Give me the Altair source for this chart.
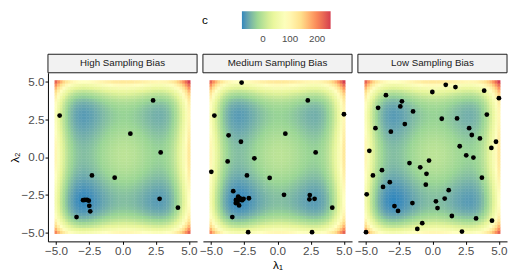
import altair as alt
import pandas as pd

# ---- background cost surface: c = cost along lambda1 + cost along lambda2 ----
grid_l = [-5.0, -4.8, -4.6, -4.4, -4.2, -4.0, -3.8, -3.6, -3.4, -3.2, -3.0, -2.8, -2.6,
          -2.4, -2.2, -2.0, -1.8, -1.6, -1.4, -1.2, -1.0, -0.8, -0.6, -0.4, -0.2, 0.0,
          0.2, 0.4, 0.6, 0.8, 1.0, 1.2, 1.4, 1.6, 1.8, 2.0, 2.2, 2.4, 2.6, 2.8, 3.0,
          3.2, 3.4, 3.6, 3.8, 4.0, 4.2, 4.4, 4.6, 4.8, 5.0]
cost_l1 = [100.0, 69.1, 43.1, 21.5, 4.0, -10.0, -20.8, -28.7, -34.2, -37.5, -39.0, -39.0,
           -37.7, -35.5, -32.5, -29.0, -25.2, -21.2, -17.3, -13.5, -10.0, -6.9, -4.3, -2.3,
           -0.8, 0.0, 0.2, -0.3, -1.3, -2.9, -5.0, -7.5, -10.3, -13.2, -16.2, -19.0, -21.5,
           -23.5, -24.7, -25.0, -24.0, -21.5, -17.2, -10.7, -1.8, 10.0, 25.0, 43.5, 66.1,
           93.1, 125.0]
cost_l2 = list(cost_l1)

# ---- sampled points per panel ----
high_l1 = [2.30, -4.73, 0.59, 2.87, -2.30, -0.59, 2.79, 4.17, -3.46, -2.97, -2.84, -2.67,
           -2.54, -2.50, -2.43]
high_l2 = [3.77, 2.76, 1.56, 0.31, -1.22, -1.37, -2.78, -3.37, -3.99, -2.87, -2.85, -2.85,
           -2.90, -3.24, -3.61]

med_l1 = [-2.70, 2.28, -4.75, 5.00, -3.68, 0.59, -2.75, 2.87, -1.74, -3.75, -4.98, -2.30,
          -0.59, 0.49, 2.43, 2.40, 2.79, 4.12, -3.40, -2.21, 2.60,
          -3.33, -2.96, -2.84, -3.13, -3.04, -2.72, -2.15, -2.89, -3.14, -2.99, -2.65, -2.55]
med_l2 = [4.96, 3.77, 2.76, 2.85, 1.45, 1.56, 1.02, 0.31, -0.08, -0.29, -0.98, -1.22,
          -1.39, -2.51, -2.53, -2.81, -2.78, -3.37, -3.99, -5.00, -5.00,
          -2.27, -2.64, -2.74, -2.85, -3.00, -2.85, -2.74, -3.22, -3.06, -2.91, -2.87, -2.78]

low_l1 = [1.00, 1.73, -0.01, 3.89, 5.00, -3.50, -2.30, -2.42, -4.09, -1.46, 4.09, 0.70,
          1.85, -2.08, -4.29, 2.76, -3.13, 2.96, 3.57, 4.78, 4.43, 2.05, -4.75, 2.54, 3.08,
          -0.26, -1.73, -0.92, -3.80, -0.45, -4.48, 3.72, -3.21, -0.50, -3.72, 1.22, 0.92,
          -4.95, 0.26, -1.51, -2.86, 0.38, -2.59, 1.46, 3.28, 4.48, -0.77, -1.14, 2.22, -5.00]
low_l2 = [4.81, 4.66, 4.33, 4.42, 3.92, 4.12, 3.71, 3.37, 3.28, 3.04, 2.83, 2.55,
          2.57, 2.20, 1.92, 1.92, 1.69, 1.47, 1.24, 1.02, 0.61, 0.72, 0.42, 0.12, -0.03,
          -0.23, -0.40, -0.68, -0.87, -1.11, -1.22, -1.37, -1.67, -1.84, -1.99, -2.20, -2.76,
          -2.48, -2.94, -3.06, -3.26, -3.39, -3.58, -3.92, -4.08, -4.23, -4.40, -4.78, -4.96, -5.00]

panel_titles = ["High Sampling Bias", "Medium Sampling Bias", "Low Sampling Bias"]
tick_values = [-5.0, -2.5, 0.0, 2.5, 5.0]
legend_values = [0, 100, 200]
palette = ["#3288BD", "#99D594", "#E6F598", "#FFFFBF", "#FEE08B", "#FC8D59", "#D53E4F"]

rows = []
for i, a in enumerate(grid_l):
    for j, b in enumerate(grid_l):
        rows.append({"l1": a, "l2": b, "c": round(cost_l1[i] + cost_l2[j], 1)})
grid = pd.DataFrame(rows)
cmin, cmax = float(grid["c"].min()), float(grid["c"].max())

W, H = 153, 173
FONT = "Liberation Sans"
xs = alt.Scale(domain=[-5.61, 5.61], nice=False, zero=False)
ys = alt.Scale(domain=[-5.61, 5.61], nice=False, zero=False)
cs = alt.Scale(domain=[cmin, cmax], range=palette, interpolate="lab", nice=False, zero=False)
leg = alt.Legend(
    orient="none", legendX=158, legendY=-63, direction="horizontal", title="c",
    titleOrient="left", titlePadding=35, titleFontSize=12, titleFont=FONT,
    titleFontWeight="normal", titleColor="black", titleAnchor="middle",
    titleBaseline="middle",
    gradientLength=91, gradientThickness=18, values=legend_values,
    labelFontSize=10, labelFont=FONT, labelColor="#4D4D4D", labelOffset=5,
)


def panel(k, p1, p2):
    xtitle = "λ₁" if k == 1 else None
    xaxis = alt.Axis(values=tick_values, format=".1f", title=xtitle, titlePadding=4)
    if k == 0:
        yaxis = alt.Axis(values=tick_values, format=".1f", title="λ₂")
    else:
        yaxis = None
    heat = alt.Chart(grid).transform_calculate(
        x0="datum.l1 - 0.115", x1="datum.l1 + 0.115",
        y0="datum.l2 - 0.115", y1="datum.l2 + 0.115",
    ).mark_rect().encode(
        x=alt.X("x0:Q", scale=xs, axis=xaxis),
        x2="x1:Q",
        y=alt.Y("y0:Q", scale=ys, axis=yaxis),
        y2="y1:Q",
        color=alt.Color("c:Q", scale=cs, legend=leg),
    )
    pts = alt.Chart(pd.DataFrame({"l1": p1, "l2": p2})).mark_circle(
        size=24, color="black", opacity=1
    ).encode(
        x=alt.X("l1:Q", scale=xs, axis=xaxis),
        y=alt.Y("l2:Q", scale=ys, axis=yaxis),
    )
    lab = pd.DataFrame({"label": [panel_titles[k]]})
    strip = alt.Chart(lab).mark_rect(fill="#F2F2F2", stroke="#1A1A1A", strokeWidth=1).encode(
        x=alt.value(0), x2=alt.value(W), y=alt.value(-19), y2=alt.value(0)
    )
    strip_text = alt.Chart(lab).mark_text(
        font=FONT, fontSize=10, color="#1A1A1A", align="center", baseline="middle"
    ).encode(x=alt.value(W / 2), y=alt.value(-9.5), text="label:N")
    return alt.layer(heat, pts, strip, strip_text).properties(width=W, height=H)


chart = alt.hconcat(
    panel(0, high_l1, high_l2),
    panel(1, med_l1, med_l2),
    panel(2, low_l1, low_l2),
    spacing=6, bounds="flush",
).resolve_scale(color="shared").properties(padding=0).configure_view(
    stroke=None
).configure_axis(
    grid=False, domainColor="black", domainWidth=1, tickColor="black", tickSize=3,
    labelFont=FONT, labelFontSize=12, labelColor="#4D4D4D", labelPadding=1,
    titleFont=FONT, titleFontSize=12, titleFontWeight="normal", titleColor="black",
    titlePadding=0,
)

chart.save("out.html", embed_options={"renderer": "svg", "actions": False})
